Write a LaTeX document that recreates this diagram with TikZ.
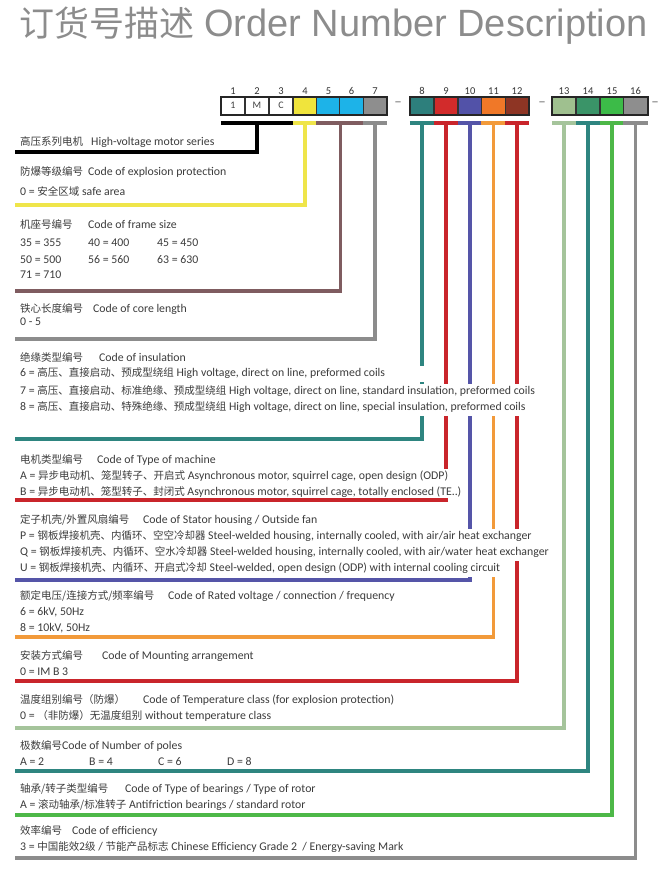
\documentclass[tikz,border=0pt]{standalone}
\usepackage{fontspec}
\setmainfont{Carlito}
\newfontfamily\cjk{Noto Sans CJK SC}
\newfontfamily\titlefont{Liberation Sans}
\usetikzlibrary{positioning}

% Farben der Felder und der Leitlinien
\definecolor{txtgray}{HTML}{3C3C3C}
\definecolor{cyel}{HTML}{F0E43C}
\definecolor{ccya}{HTML}{1DB3E8}
\definecolor{cgry}{HTML}{8E8E8E}
\definecolor{cteal}{HTML}{2D7F7C}
\definecolor{cred}{HTML}{D22B2B}
\definecolor{cblu}{HTML}{5252A8}
\definecolor{corg}{HTML}{F07828}
\definecolor{cbrn}{HTML}{8E3524}
\definecolor{clgr}{HTML}{9FC08F}
\definecolor{cgrn}{HTML}{3A9468}
\definecolor{clim}{HTML}{3CBB48}
\definecolor{lyel}{HTML}{EFE54A}
\definecolor{lbrn}{HTML}{7F5C60}
\definecolor{lgry}{HTML}{8C8C8C}
\definecolor{lteal}{HTML}{2E8580}
\definecolor{lred}{HTML}{C9252B}
\definecolor{lblu}{HTML}{5555A8}
\definecolor{lorg}{HTML}{F29A3A}
\definecolor{llgr}{HTML}{A5C49B}
\definecolor{llim}{HTML}{4DB848}

\newcommand{\zh}[1]{{\cjk\fontsize{10.5}{11}\selectfont #1}}
\newcommand{\col}[2]{\makebox[#1][l]{#2}}

\tikzset{
  cell/.style={draw=black!80, line width=1pt, minimum width=23.5pt, minimum height=17pt,
    inner sep=0pt, font=\fontsize{10}{10}\selectfont, text=black!75},
  cellno/.style={font=\fontsize{10.5}{10.5}\selectfont, text=black!80, inner sep=1pt},
  frame/.style={draw=black!85, line width=2pt},
  sepdash/.style={font=\fontsize{15}{15}\selectfont, text=black!55, inner sep=0pt},
  bar/.style={line width=4pt},
  lead/.style={line width=3.2pt},
  row/.style={anchor=west, fill=white, inner xsep=4pt, inner ysep=2.3pt,
    text height=8.2pt, text depth=3pt, font=\fontsize{11.8}{12}\selectfont, text=txtgray},
}

\begin{document}
\begin{tikzpicture}[x=1pt,y=-1pt]
  \useasboundingbox (0,0) rectangle (672,873);

  % Titel
  \node[anchor=west, inner sep=0pt, text=black!45] (title) at (19,26)
    {{\cjk\fontsize{35}{35}\selectfont 订货号描述}\hspace{10pt}{\titlefont\fontsize{38}{38}\selectfont Order Number Description}};

  % Felder 1 bis 16 mit Nummern darueber
  \foreach \i/\x/\fc/\t in {1/233/white/1, 2/257/white/M, 3/281/white/C, 4/305/cyel/, 5/328.5/ccya/,
      6/351.5/ccya/, 7/375/cgry/, 8/422/cteal/, 9/446/cred/, 10/470/cblu/, 11/493.5/corg/,
      12/517/cbrn/, 13/564/clgr/, 14/588/cgrn/, 15/612/clim/, 16/635.5/cgry/}
  {
    \node[cell, fill=\fc] (c\i) at (\x,105.5) {\t};
    \node[cellno, above=0.5pt of c\i] (n\i) {\i};
  }
  \draw[frame] (c1.north west) rectangle (c7.south east);
  \draw[frame] (c8.north west) rectangle (c12.south east);
  \draw[frame] (c13.north west) rectangle (c16.south east);

  % Bindestriche zwischen den Gruppen
  \node[sepdash] (d1) at (398,104) {--};
  \node[sepdash] (d2) at (542,104) {--};
  \node[sepdash] (d3) at (655,104) {--};

  % Leitlinien: senkrechter Teil
  \foreach \k/\a/\y/\cl in {1/c2.south/152/black, 2/c4.south/205/lyel, 3/c5.south east/291/lbrn,
      4/c7.south/339/lgry, 5/c8.south/439/lteal, 6/c9.south/500/lred, 7/c10.south/580/lblu,
      8/c11.south/637/lorg, 9/c12.south/681/lred, 10/c13.south/728/llgr,
      11/c14.south/771/lteal, 12/c15.south/815/llim, 13/c16.south/858/lgry}
  {
    \coordinate (e\k) at (17,\y);
    \draw[lead, \cl] ([yshift=-8pt]\a) -- (\a |- e\k);
  }

  % Farbbalken unter den Feldern
  \foreach \a/\b/\cl in {1/3/black, 4/4/lyel, 5/6/lbrn, 7/7/lgry, 8/8/lteal, 9/9/lred, 10/10/lblu,
      11/11/lorg, 12/12/lred, 13/13/llgr, 14/14/lteal, 15/15/llim, 16/16/lgry}
    \draw[bar, \cl] ([yshift=-8pt]c\a.south west) -- ([yshift=-8pt]c\b.south east);

  % Beschreibungen
  \node[row] (r1) at (16,143) {\col{71pt}{\zh{高压系列电机}}High-voltage motor series};
  \node[row] (r2) at (16,173) {\col{68pt}{\zh{防爆等级编号}}Code of explosion protection};
  \node[row] (r3) at (16,193) {0 = \zh{安全区域} safe area};
  \node[row] (r4) at (16,226) {\col{68pt}{\zh{机座号编号}}Code of frame size};
  \node[row] (r5) at (16,244) {\col{68pt}{35 = 355}\col{69pt}{40 = 400}45 = 450};
  \node[row] (r6) at (16,261) {\col{68pt}{50 = 500}\col{69pt}{56 = 560}63 = 630};
  \node[row] (r7) at (16,276) {71 = 710};
  \node[row] (r8) at (16,310) {\col{73pt}{\zh{铁心长度编号}}Code of core length};
  \node[row] (r9) at (16,323) {0 - 5};
  \node[row] (r10) at (16,359) {\col{79pt}{\zh{绝缘类型编号}}Code of insulation};
  \node[row] (r11) at (16,374)
    {\col{408pt}{6 = \zh{高压、直接启动、预成型绕组} High voltage, direct on line, preformed coils}};
  \node[row] (r12) at (16,392)
    {7 = \zh{高压、直接启动、标准绝缘、预成型绕组} High voltage, direct on line, standard insulation, preformed coils};
  \node[row] (r13) at (16,408)
    {8 = \zh{高压、直接启动、特殊绝缘、预成型绕组} High voltage, direct on line, special insulation, preformed coils};
  \node[row] (r14) at (16,461) {\col{77pt}{\zh{电机类型编号}}Code of Type of machine};
  \node[row] (r15) at (16,477)
    {A = \zh{异步电动机、笼型转子、开启式} Asynchronous motor, squirrel cage, open design (ODP)};
  \node[row] (r16) at (16,493)
    {B = \zh{异步电动机、笼型转子、封闭式} Asynchronous motor, squirrel cage, totally enclosed (TE..)};
  \node[row] (r17) at (16,521) {\col{123pt}{\zh{定子机壳/外置风扇编号}}Code of Stator housing / Outside fan};
  \node[row] (r18) at (16,537)
    {P = \zh{钢板焊接机壳、内循环、空空冷却器} Steel-welded housing, internally cooled, with air/air heat exchanger};
  \node[row] (r19) at (16,553)
    {Q = \zh{钢板焊接机壳、内循环、空水冷却器} Steel-welded housing, internally cooled, with air/water heat exchanger};
  \node[row] (r20) at (16,569)
    {U = \zh{钢板焊接机壳、内循环、开启式冷却} Steel-welded, open design (ODP) with internal cooling circuit};
  \node[row] (r21) at (16,597)
    {\col{148pt}{\zh{额定电压/连接方式/频率编号}}Code of Rated voltage / connection / frequency};
  \node[row] (r22) at (16,613) {6 = 6kV, 50Hz};
  \node[row] (r23) at (16,629) {8 = 10kV, 50Hz};
  \node[row] (r24) at (16,657) {\col{82pt}{\zh{安装方式编号}}Code of Mounting arrangement};
  \node[row] (r25) at (16,673) {0 = IM B 3};
  \node[row] (r26) at (16,701)
    {\col{123pt}{\zh{温度组别编号（防爆）}}Code of Temperature class (for explosion protection)};
  \node[row] (r27) at (16,717) {0 = \zh{（非防爆）无温度组别} without temperature class};
  \node[row] (r28) at (16,747) {\zh{极数编号}Code of Number of poles};
  \node[row] (r29) at (16,763) {\col{69pt}{A = 2}\col{69pt}{B = 4}\col{69pt}{C = 6}D = 8};
  \node[row] (r30) at (16,790) {\col{105pt}{\zh{轴承/转子类型编号}}Code of Type of bearings / Type of rotor};
  \node[row] (r31) at (16,806) {A = \zh{滚动轴承/标准转子} Antifriction bearings / standard rotor};
  \node[row] (r32) at (16,832) {\col{52pt}{\zh{效率编号}}Code of efficiency};
  \node[row] (r33) at (16,848)
    {3 = \zh{中国能效2级} / \zh{节能产品标志} Chinese Efficiency Grade 2\ \ / Energy-saving Mark};

  % Leitlinien: waagrechter Teil
  \foreach \k/\a/\cl in {1/c2.south/black, 2/c4.south/lyel, 3/c5.south east/lbrn, 4/c7.south/lgry,
      5/c8.south/lteal, 6/c9.south/lred, 7/c10.south/lblu, 8/c11.south/lorg, 9/c12.south/lred,
      10/c13.south/llgr, 11/c14.south/lteal, 12/c15.south/llim, 13/c16.south/lgry}
    \draw[lead, \cl, line cap=rect] (\a |- e\k) -- (e\k);
\end{tikzpicture}
\end{document}
